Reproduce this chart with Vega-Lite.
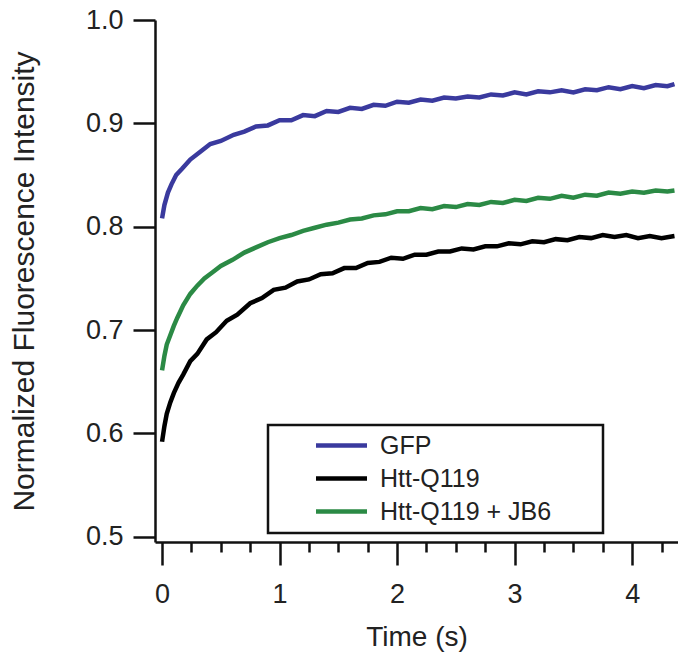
{
  "$schema": "https://vega.github.io/schema/vega-lite/v6.json",
  "autosize": {"type": "none"},
  "padding": {"left": 155, "top": 20, "right": 0, "bottom": 117},
  "width": 523,
  "height": 522,
  "background": "white",
  "config": {
    "view": {"stroke": null},
    "font": "Liberation Sans",
    "legend": {"strokeWidth": 2.5},
    "axis": {"labelFont": "Liberation Sans", "titleFont": "Liberation Sans", "labelColor": "#222", "titleColor": "#222", "titleFontWeight": "normal", "domainColor": "#111", "tickColor": "#111", "grid": false}
  },
  "data": {"values": [
    {"series": "GFP", "time": 0, "intensity": 0.808},
    {"series": "GFP", "time": 0.02, "intensity": 0.821},
    {"series": "GFP", "time": 0.05, "intensity": 0.833},
    {"series": "GFP", "time": 0.08, "intensity": 0.841},
    {"series": "GFP", "time": 0.12, "intensity": 0.85},
    {"series": "GFP", "time": 0.17, "intensity": 0.856},
    {"series": "GFP", "time": 0.24, "intensity": 0.865},
    {"series": "GFP", "time": 0.32, "intensity": 0.872},
    {"series": "GFP", "time": 0.41, "intensity": 0.88},
    {"series": "GFP", "time": 0.5, "intensity": 0.883},
    {"series": "GFP", "time": 0.61, "intensity": 0.889},
    {"series": "GFP", "time": 0.7, "intensity": 0.892},
    {"series": "GFP", "time": 0.8, "intensity": 0.897},
    {"series": "GFP", "time": 0.9, "intensity": 0.898},
    {"series": "GFP", "time": 1.0, "intensity": 0.903},
    {"series": "GFP", "time": 1.1, "intensity": 0.903},
    {"series": "GFP", "time": 1.2, "intensity": 0.908},
    {"series": "GFP", "time": 1.3, "intensity": 0.907},
    {"series": "GFP", "time": 1.4, "intensity": 0.912},
    {"series": "GFP", "time": 1.5, "intensity": 0.911},
    {"series": "GFP", "time": 1.6, "intensity": 0.915},
    {"series": "GFP", "time": 1.7, "intensity": 0.914},
    {"series": "GFP", "time": 1.8, "intensity": 0.918},
    {"series": "GFP", "time": 1.9, "intensity": 0.917},
    {"series": "GFP", "time": 2.0, "intensity": 0.921},
    {"series": "GFP", "time": 2.1, "intensity": 0.92},
    {"series": "GFP", "time": 2.2, "intensity": 0.923},
    {"series": "GFP", "time": 2.3, "intensity": 0.922},
    {"series": "GFP", "time": 2.4, "intensity": 0.925},
    {"series": "GFP", "time": 2.5, "intensity": 0.924},
    {"series": "GFP", "time": 2.6, "intensity": 0.926},
    {"series": "GFP", "time": 2.7, "intensity": 0.925},
    {"series": "GFP", "time": 2.8, "intensity": 0.928},
    {"series": "GFP", "time": 2.9, "intensity": 0.927},
    {"series": "GFP", "time": 3.0, "intensity": 0.93},
    {"series": "GFP", "time": 3.1, "intensity": 0.928},
    {"series": "GFP", "time": 3.2, "intensity": 0.931},
    {"series": "GFP", "time": 3.3, "intensity": 0.93},
    {"series": "GFP", "time": 3.4, "intensity": 0.932},
    {"series": "GFP", "time": 3.5, "intensity": 0.93},
    {"series": "GFP", "time": 3.6, "intensity": 0.933},
    {"series": "GFP", "time": 3.7, "intensity": 0.932},
    {"series": "GFP", "time": 3.8, "intensity": 0.935},
    {"series": "GFP", "time": 3.9, "intensity": 0.933},
    {"series": "GFP", "time": 4.0, "intensity": 0.936},
    {"series": "GFP", "time": 4.1, "intensity": 0.934},
    {"series": "GFP", "time": 4.2, "intensity": 0.937},
    {"series": "GFP", "time": 4.3, "intensity": 0.936},
    {"series": "GFP", "time": 4.36, "intensity": 0.938},
    {"series": "Htt-Q119", "time": 0, "intensity": 0.592},
    {"series": "Htt-Q119", "time": 0.02, "intensity": 0.607},
    {"series": "Htt-Q119", "time": 0.04, "intensity": 0.619},
    {"series": "Htt-Q119", "time": 0.07, "intensity": 0.63},
    {"series": "Htt-Q119", "time": 0.1, "intensity": 0.639},
    {"series": "Htt-Q119", "time": 0.14, "intensity": 0.649},
    {"series": "Htt-Q119", "time": 0.18, "intensity": 0.657},
    {"series": "Htt-Q119", "time": 0.24, "intensity": 0.67},
    {"series": "Htt-Q119", "time": 0.3, "intensity": 0.677},
    {"series": "Htt-Q119", "time": 0.38, "intensity": 0.691},
    {"series": "Htt-Q119", "time": 0.46, "intensity": 0.698},
    {"series": "Htt-Q119", "time": 0.55, "intensity": 0.709},
    {"series": "Htt-Q119", "time": 0.64, "intensity": 0.715},
    {"series": "Htt-Q119", "time": 0.75, "intensity": 0.726},
    {"series": "Htt-Q119", "time": 0.85, "intensity": 0.731},
    {"series": "Htt-Q119", "time": 0.95, "intensity": 0.739},
    {"series": "Htt-Q119", "time": 1.05, "intensity": 0.741},
    {"series": "Htt-Q119", "time": 1.15, "intensity": 0.747},
    {"series": "Htt-Q119", "time": 1.25, "intensity": 0.749},
    {"series": "Htt-Q119", "time": 1.35, "intensity": 0.754},
    {"series": "Htt-Q119", "time": 1.45, "intensity": 0.755},
    {"series": "Htt-Q119", "time": 1.55, "intensity": 0.76},
    {"series": "Htt-Q119", "time": 1.65, "intensity": 0.76},
    {"series": "Htt-Q119", "time": 1.75, "intensity": 0.765},
    {"series": "Htt-Q119", "time": 1.85, "intensity": 0.766},
    {"series": "Htt-Q119", "time": 1.95, "intensity": 0.77},
    {"series": "Htt-Q119", "time": 2.05, "intensity": 0.769},
    {"series": "Htt-Q119", "time": 2.15, "intensity": 0.773},
    {"series": "Htt-Q119", "time": 2.25, "intensity": 0.773},
    {"series": "Htt-Q119", "time": 2.35, "intensity": 0.776},
    {"series": "Htt-Q119", "time": 2.45, "intensity": 0.776},
    {"series": "Htt-Q119", "time": 2.55, "intensity": 0.779},
    {"series": "Htt-Q119", "time": 2.65, "intensity": 0.778},
    {"series": "Htt-Q119", "time": 2.75, "intensity": 0.781},
    {"series": "Htt-Q119", "time": 2.85, "intensity": 0.781},
    {"series": "Htt-Q119", "time": 2.95, "intensity": 0.784},
    {"series": "Htt-Q119", "time": 3.05, "intensity": 0.783},
    {"series": "Htt-Q119", "time": 3.15, "intensity": 0.786},
    {"series": "Htt-Q119", "time": 3.25, "intensity": 0.785},
    {"series": "Htt-Q119", "time": 3.35, "intensity": 0.788},
    {"series": "Htt-Q119", "time": 3.45, "intensity": 0.787},
    {"series": "Htt-Q119", "time": 3.55, "intensity": 0.79},
    {"series": "Htt-Q119", "time": 3.65, "intensity": 0.789},
    {"series": "Htt-Q119", "time": 3.75, "intensity": 0.792},
    {"series": "Htt-Q119", "time": 3.85, "intensity": 0.79},
    {"series": "Htt-Q119", "time": 3.95, "intensity": 0.792},
    {"series": "Htt-Q119", "time": 4.05, "intensity": 0.789},
    {"series": "Htt-Q119", "time": 4.15, "intensity": 0.791},
    {"series": "Htt-Q119", "time": 4.25, "intensity": 0.789},
    {"series": "Htt-Q119", "time": 4.36, "intensity": 0.791},
    {"series": "Htt-Q119 + JB6", "time": 0, "intensity": 0.661},
    {"series": "Htt-Q119 + JB6", "time": 0.02, "intensity": 0.675},
    {"series": "Htt-Q119 + JB6", "time": 0.04, "intensity": 0.686},
    {"series": "Htt-Q119 + JB6", "time": 0.07, "intensity": 0.695},
    {"series": "Htt-Q119 + JB6", "time": 0.1, "intensity": 0.704},
    {"series": "Htt-Q119 + JB6", "time": 0.13, "intensity": 0.712},
    {"series": "Htt-Q119 + JB6", "time": 0.18, "intensity": 0.724},
    {"series": "Htt-Q119 + JB6", "time": 0.24, "intensity": 0.735},
    {"series": "Htt-Q119 + JB6", "time": 0.3, "intensity": 0.743},
    {"series": "Htt-Q119 + JB6", "time": 0.36, "intensity": 0.75},
    {"series": "Htt-Q119 + JB6", "time": 0.43, "intensity": 0.756},
    {"series": "Htt-Q119 + JB6", "time": 0.5, "intensity": 0.762},
    {"series": "Htt-Q119 + JB6", "time": 0.6, "intensity": 0.768},
    {"series": "Htt-Q119 + JB6", "time": 0.7, "intensity": 0.775},
    {"series": "Htt-Q119 + JB6", "time": 0.8, "intensity": 0.78},
    {"series": "Htt-Q119 + JB6", "time": 0.9, "intensity": 0.785},
    {"series": "Htt-Q119 + JB6", "time": 1.0, "intensity": 0.789},
    {"series": "Htt-Q119 + JB6", "time": 1.1, "intensity": 0.792},
    {"series": "Htt-Q119 + JB6", "time": 1.2, "intensity": 0.796},
    {"series": "Htt-Q119 + JB6", "time": 1.3, "intensity": 0.799},
    {"series": "Htt-Q119 + JB6", "time": 1.4, "intensity": 0.802},
    {"series": "Htt-Q119 + JB6", "time": 1.5, "intensity": 0.804},
    {"series": "Htt-Q119 + JB6", "time": 1.6, "intensity": 0.807},
    {"series": "Htt-Q119 + JB6", "time": 1.7, "intensity": 0.808},
    {"series": "Htt-Q119 + JB6", "time": 1.8, "intensity": 0.811},
    {"series": "Htt-Q119 + JB6", "time": 1.9, "intensity": 0.812},
    {"series": "Htt-Q119 + JB6", "time": 2.0, "intensity": 0.815},
    {"series": "Htt-Q119 + JB6", "time": 2.1, "intensity": 0.815},
    {"series": "Htt-Q119 + JB6", "time": 2.2, "intensity": 0.818},
    {"series": "Htt-Q119 + JB6", "time": 2.3, "intensity": 0.817},
    {"series": "Htt-Q119 + JB6", "time": 2.4, "intensity": 0.82},
    {"series": "Htt-Q119 + JB6", "time": 2.5, "intensity": 0.819},
    {"series": "Htt-Q119 + JB6", "time": 2.6, "intensity": 0.822},
    {"series": "Htt-Q119 + JB6", "time": 2.7, "intensity": 0.821},
    {"series": "Htt-Q119 + JB6", "time": 2.8, "intensity": 0.824},
    {"series": "Htt-Q119 + JB6", "time": 2.9, "intensity": 0.823},
    {"series": "Htt-Q119 + JB6", "time": 3.0, "intensity": 0.826},
    {"series": "Htt-Q119 + JB6", "time": 3.1, "intensity": 0.825},
    {"series": "Htt-Q119 + JB6", "time": 3.2, "intensity": 0.828},
    {"series": "Htt-Q119 + JB6", "time": 3.3, "intensity": 0.827},
    {"series": "Htt-Q119 + JB6", "time": 3.4, "intensity": 0.83},
    {"series": "Htt-Q119 + JB6", "time": 3.5, "intensity": 0.828},
    {"series": "Htt-Q119 + JB6", "time": 3.6, "intensity": 0.831},
    {"series": "Htt-Q119 + JB6", "time": 3.7, "intensity": 0.83},
    {"series": "Htt-Q119 + JB6", "time": 3.8, "intensity": 0.833},
    {"series": "Htt-Q119 + JB6", "time": 3.9, "intensity": 0.832},
    {"series": "Htt-Q119 + JB6", "time": 4.0, "intensity": 0.834},
    {"series": "Htt-Q119 + JB6", "time": 4.1, "intensity": 0.833},
    {"series": "Htt-Q119 + JB6", "time": 4.2, "intensity": 0.835},
    {"series": "Htt-Q119 + JB6", "time": 4.3, "intensity": 0.834},
    {"series": "Htt-Q119 + JB6", "time": 4.36, "intensity": 0.835}
  ]},
  "layer": [
    {
      "mark": {"type": "line", "strokeWidth": 4.5, "clip": true},
      "encoding": {
        "x": {"field": "time", "type": "quantitative",
          "scale": {"domain": [-0.06, 4.39], "nice": false, "zero": false},
          "axis": {"title": "Time (s)", "values": [0, 1, 2, 3, 4], "format": "d", "tickSize": 23, "tickWidth": 2.5, "domainWidth": 2.5, "labelFontSize": 27, "labelPadding": 16, "titleFontSize": 28, "titlePadding": 16, "orient": "bottom", "zindex": 1}},
        "y": {"field": "intensity", "type": "quantitative",
          "scale": {"domain": [0.495, 1.0], "nice": false, "zero": false},
          "axis": {"title": "Normalized Fluorescence Intensity", "values": [0.5, 0.6, 0.7, 0.8, 0.9, 1.0], "format": ".1f", "tickSize": 22, "tickWidth": 2.5, "domainWidth": 2.5, "labelFontSize": 27, "labelPadding": 10, "titleFontSize": 30, "titlePadding": 46, "zindex": 1}},
        "color": {"field": "series", "type": "nominal",
          "scale": {"domain": ["GFP", "Htt-Q119", "Htt-Q119 + JB6"], "range": ["#3a3a9e", "#000000", "#2b8a45"]},
          "legend": {"title": "\u2003", "titleOrient": "right", "titleFontSize": 25, "titlePadding": 44, "orient": "none", "legendX": 113, "legendY": 405, "symbolType": "M-3,0H3", "symbolStrokeWidth": 4.5, "symbolSize": 289, "symbolOffset": 53, "labelFontSize": 25, "labelFont": "Liberation Sans", "labelColor": "#222", "labelOffset": 26, "rowPadding": 7, "padding": 8, "strokeColor": "#111", "fillColor": "white", "labelLimit": 400}}
      }
    },
    {
      "mark": {"type": "point", "opacity": 0},
      "encoding": {
        "x": {"field": "time", "type": "quantitative",
          "axis": {"title": null, "orient": "bottom", "values": [0.25, 0.5, 0.75, 1.25, 1.5, 1.75, 2.25, 2.5, 2.75, 3.25, 3.5, 3.75, 4.25], "labels": false, "domain": false, "tickSize": 10, "tickWidth": 2.5}}
      }
    }
  ],
  "resolve": {"axis": {"x": "independent"}}
}
